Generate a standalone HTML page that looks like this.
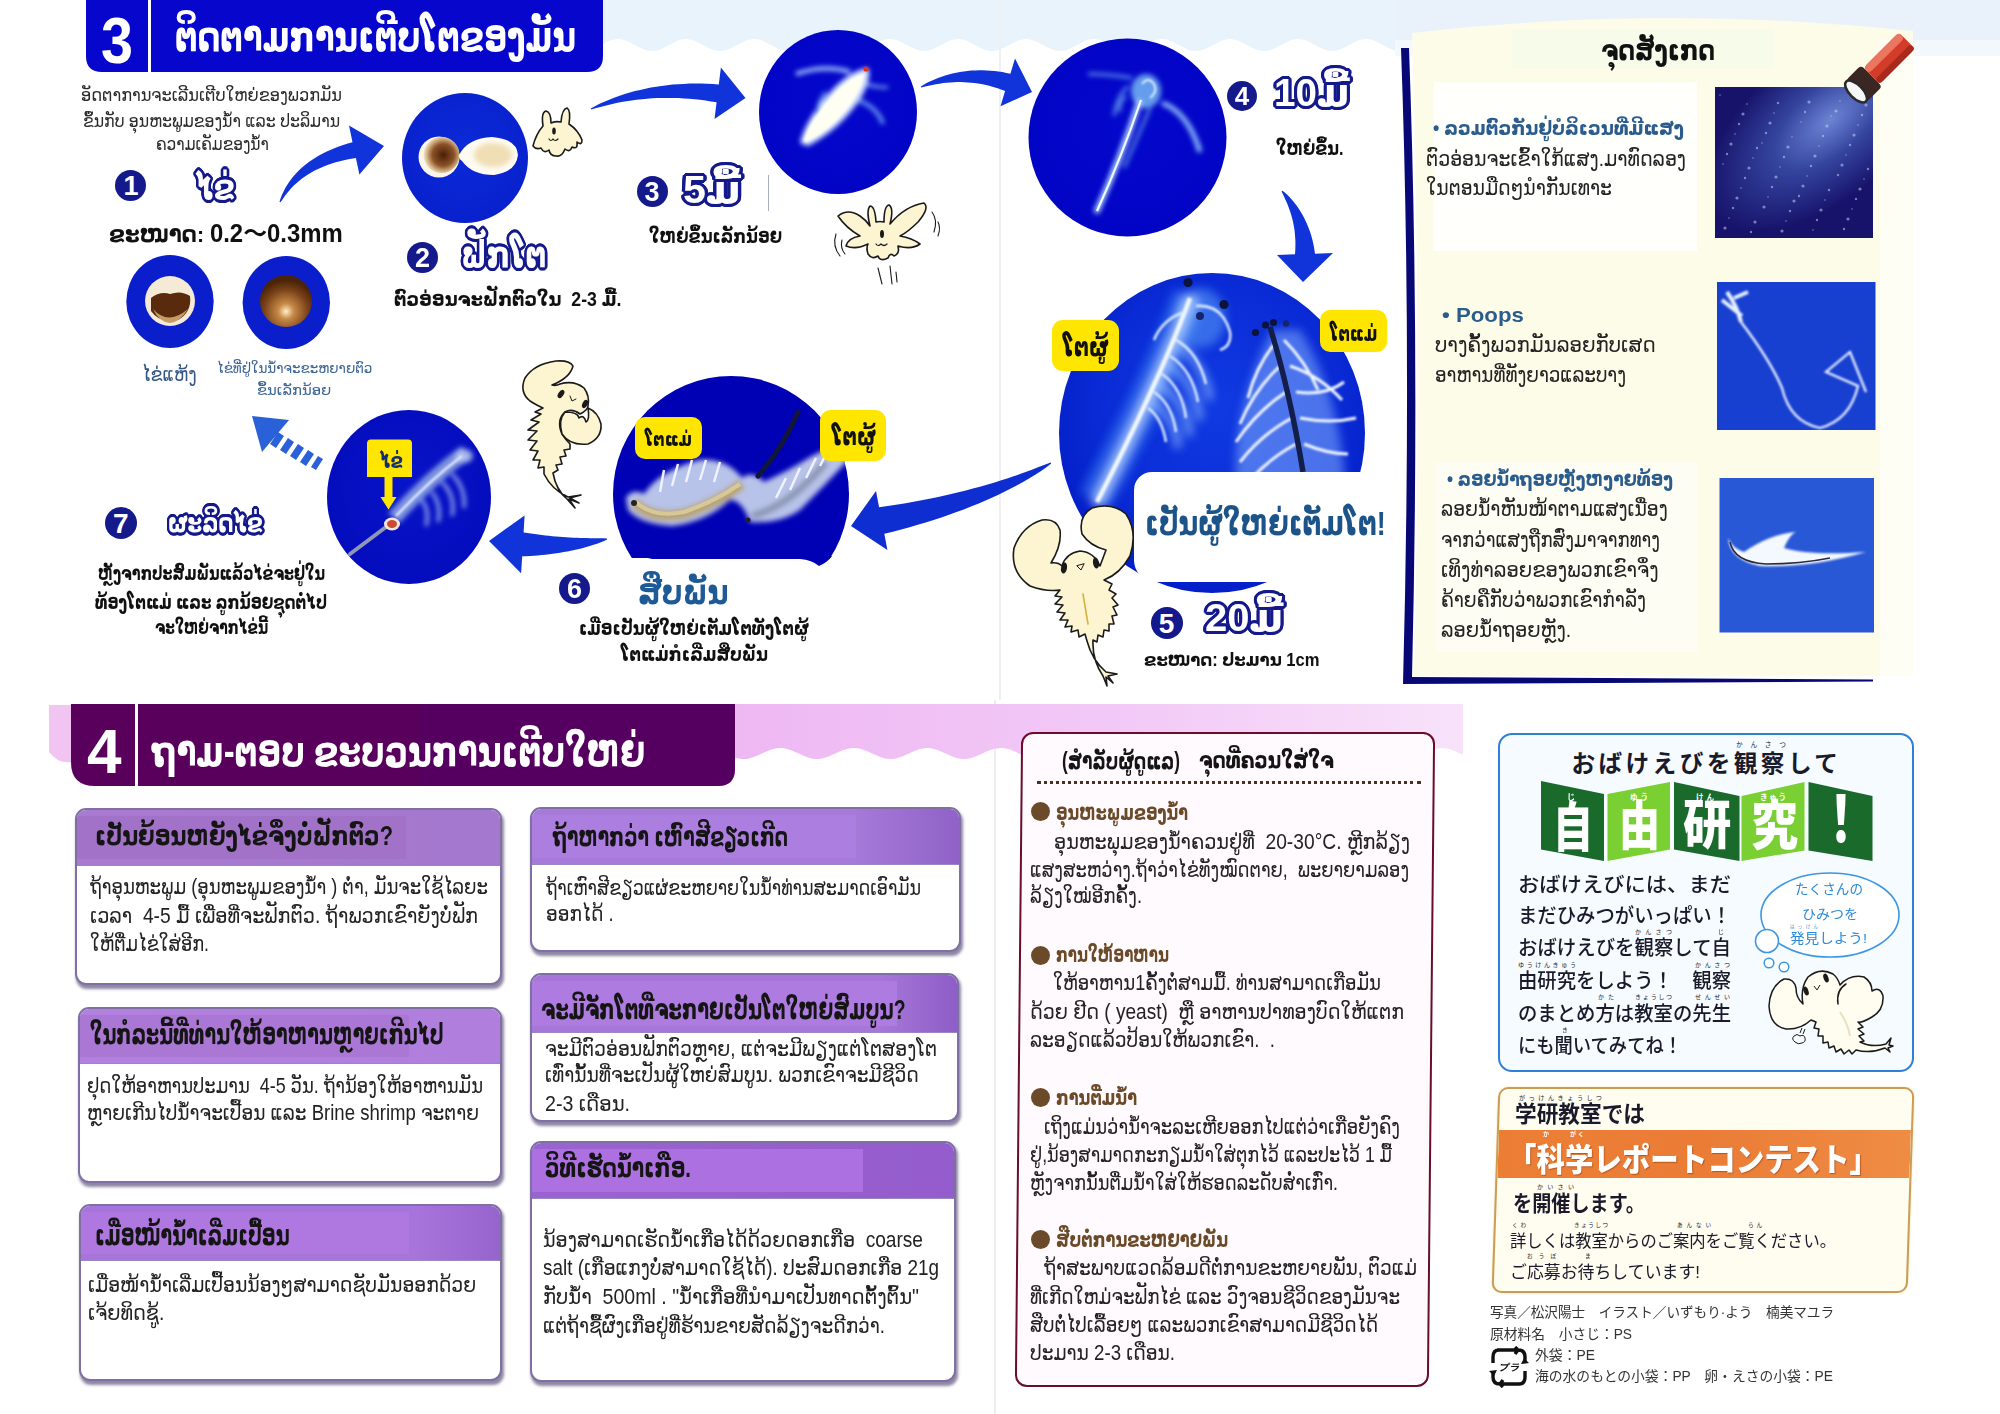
<!DOCTYPE html>
<html lang="lo"><head><meta charset="utf-8"><title>Brine shrimp growth guide</title>
<style>
html,body{margin:0;padding:0}
body{width:2000px;height:1414px;position:relative;overflow:hidden;background:#fff;font-family:'Liberation Sans','DejaVu Sans','Noto Sans CJK JP',sans-serif}
.abs{position:absolute}
.t{position:absolute;white-space:nowrap;line-height:1;transform-origin:0 50%;color:#151515}
.b{font-weight:bold}
.jp{font-family:'Liberation Sans','Noto Sans CJK JP',sans-serif}
.ol{color:#fff;text-shadow:3px 0 #14198c,-3px 0 #14198c,0 3px #14198c,0 -3px #14198c,2px 2px #14198c,-2px 2px #14198c,2px -2px #14198c,-2px -2px #14198c,3px 1px #14198c,3px -1px #14198c,-3px 1px #14198c,-3px -1px #14198c,1px 3px #14198c,-1px 3px #14198c,1px -3px #14198c,-1px -3px #14198c}
.num{position:absolute;border-radius:50%;background:#14198c;color:#fff;font-weight:bold;text-align:center;font-family:'Liberation Sans',sans-serif}
.ylab{position:absolute;background:#ffe600;border-radius:9px}
.qb{position:absolute;box-sizing:border-box;border:2px solid #7e70a2;border-radius:11px;background:#fff;box-shadow:1.5px 3.5px 3px rgba(50,35,85,.55);overflow:hidden}
.qh{position:absolute;left:0;top:0;right:0;background:linear-gradient(90deg,#b07edc 0%,#b07edc 75%,#a47ed8 100%);border-bottom:1px solid #9a86c0}
.qp{position:absolute;background:#a877d2}
</style></head>
<body>
<svg class="abs" style="left:0;top:0" width="2000" height="1414" viewBox="0 0 2000 1414">
<defs>
<filter id="b1" x="-30%" y="-30%" width="160%" height="160%"><feGaussianBlur stdDeviation="1.2"/></filter>
<filter id="b2" x="-30%" y="-30%" width="160%" height="160%"><feGaussianBlur stdDeviation="2.5"/></filter>
<filter id="b4" x="-40%" y="-40%" width="180%" height="180%"><feGaussianBlur stdDeviation="5"/></filter>
<filter id="b8" x="-50%" y="-50%" width="200%" height="200%"><feGaussianBlur stdDeviation="10"/></filter>
<radialGradient id="gc" cx="50%" cy="45%" r="60%"><stop offset="0" stop-color="#0408cc"/><stop offset="1" stop-color="#0204c4"/></radialGradient><radialGradient id="gc2" cx="50%" cy="45%" r="60%"><stop offset="0" stop-color="#0c2ad8"/><stop offset="1" stop-color="#0820cc"/></radialGradient><radialGradient id="gc7" cx="50%" cy="45%" r="60%"><stop offset="0" stop-color="#0814c8"/><stop offset="1" stop-color="#040cbc"/></radialGradient>
<radialGradient id="gc5" cx="52%" cy="42%" r="62%"><stop offset="0" stop-color="#103ae2"/><stop offset=".6" stop-color="#0a2cd6"/><stop offset="1" stop-color="#021cc6"/></radialGradient>
<radialGradient id="gegg" cx="55%" cy="50%" r="55%"><stop offset="0" stop-color="#4a1e08"/><stop offset=".55" stop-color="#8a5226"/><stop offset=".85" stop-color="#d8b88c"/><stop offset="1" stop-color="#f2e6d2"/></radialGradient>
<radialGradient id="gegg2" cx="50%" cy="70%" r="60%"><stop offset="0" stop-color="#fff0c8"/><stop offset=".25" stop-color="#c88a48"/><stop offset=".7" stop-color="#7a4218"/><stop offset="1" stop-color="#4a2408"/></radialGradient>
<radialGradient id="gp1" gradientUnits="userSpaceOnUse" cx="1830" cy="120" r="150" gradientTransform="rotate(-40 1830 120) scale(1 .5) translate(0 120)"><stop offset="0" stop-color="#6c84d4"/><stop offset=".45" stop-color="#34449e"/><stop offset="1" stop-color="#17126a"/></radialGradient>
<linearGradient id="gpink" gradientUnits="userSpaceOnUse" x1="735" y1="0" x2="1463" y2="0"><stop offset="0" stop-color="#eeb8f3"/><stop offset=".55" stop-color="#f2caf6"/><stop offset="1" stop-color="#f8e2fa"/></linearGradient><linearGradient id="gpan" x1="0" y1="0" x2="1" y2="0"><stop offset="0" stop-color="#fcfbee"/><stop offset=".9" stop-color="#fcfbee"/><stop offset="1" stop-color="#fefef8"/></linearGradient>
<clipPath id="cl6"><rect x="600" y="370" width="260" height="188"/></clipPath>
<clipPath id="cc2"><ellipse cx="465" cy="158" rx="63" ry="65"/></clipPath>
<clipPath id="cc3"><ellipse cx="838" cy="112" rx="79" ry="82"/></clipPath>
<clipPath id="cc4"><ellipse cx="1127.5" cy="137.5" rx="99" ry="99"/></clipPath>
<clipPath id="cc5"><ellipse cx="1212" cy="433" rx="153" ry="160"/></clipPath>
<clipPath id="cc6"><circle cx="731" cy="494" r="118"/></clipPath>
<clipPath id="cc7"><ellipse cx="409" cy="497" rx="82" ry="87"/></clipPath>
</defs>
<path d="M603 0 H1404 L1404 50.6 L1401 51.0 L1398 50.9 L1395 50.4 L1392 49.4 L1389 48.2 L1386 46.6 L1383 45.0 L1380 43.4 L1377 41.8 L1374 40.6 L1371 39.6 L1368 39.1 L1365 39.0 L1362 39.4 L1359 40.2 L1356 41.4 L1353 42.8 L1350 44.4 L1347 46.1 L1344 47.7 L1341 49.0 L1338 50.1 L1335 50.8 L1332 51.0 L1329 50.8 L1326 50.1 L1323 49.0 L1320 47.7 L1317 46.1 L1314 44.4 L1311 42.8 L1308 41.4 L1305 40.2 L1302 39.4 L1299 39.0 L1296 39.1 L1293 39.6 L1290 40.6 L1287 41.8 L1284 43.4 L1281 45.0 L1278 46.6 L1275 48.2 L1272 49.4 L1269 50.4 L1266 50.9 L1263 51.0 L1260 50.6 L1257 49.8 L1254 48.6 L1251 47.2 L1248 45.6 L1245 43.9 L1242 42.3 L1239 41.0 L1236 39.9 L1233 39.2 L1230 39.0 L1227 39.2 L1224 39.9 L1221 41.0 L1218 42.3 L1215 43.9 L1212 45.6 L1209 47.2 L1206 48.6 L1203 49.8 L1200 50.6 L1197 51.0 L1194 50.9 L1191 50.4 L1188 49.4 L1185 48.2 L1182 46.6 L1179 45.0 L1176 43.4 L1173 41.8 L1170 40.6 L1167 39.6 L1164 39.1 L1161 39.0 L1158 39.4 L1155 40.2 L1152 41.4 L1149 42.8 L1146 44.4 L1143 46.1 L1140 47.7 L1137 49.0 L1134 50.1 L1131 50.8 L1128 51.0 L1125 50.8 L1122 50.1 L1119 49.0 L1116 47.7 L1113 46.1 L1110 44.4 L1107 42.8 L1104 41.4 L1101 40.2 L1098 39.4 L1095 39.0 L1092 39.1 L1089 39.6 L1086 40.6 L1083 41.8 L1080 43.4 L1077 45.0 L1074 46.6 L1071 48.2 L1068 49.4 L1065 50.4 L1062 50.9 L1059 51.0 L1056 50.6 L1053 49.8 L1050 48.6 L1047 47.2 L1044 45.6 L1041 43.9 L1038 42.3 L1035 41.0 L1032 39.9 L1029 39.2 L1026 39.0 L1023 39.2 L1020 39.9 L1017 41.0 L1014 42.3 L1011 43.9 L1008 45.6 L1005 47.2 L1002 48.6 L999 49.8 L996 50.6 L993 51.0 L990 50.9 L987 50.4 L984 49.4 L981 48.2 L978 46.6 L975 45.0 L972 43.4 L969 41.8 L966 40.6 L963 39.6 L960 39.1 L957 39.0 L954 39.4 L951 40.2 L948 41.4 L945 42.8 L942 44.4 L939 46.1 L936 47.7 L933 49.0 L930 50.1 L927 50.8 L924 51.0 L921 50.8 L918 50.1 L915 49.0 L912 47.7 L909 46.1 L906 44.4 L903 42.8 L900 41.4 L897 40.2 L894 39.4 L891 39.0 L888 39.1 L885 39.6 L882 40.6 L879 41.8 L876 43.4 L873 45.0 L870 46.6 L867 48.2 L864 49.4 L861 50.4 L858 50.9 L855 51.0 L852 50.6 L849 49.8 L846 48.6 L843 47.2 L840 45.6 L837 43.9 L834 42.3 L831 41.0 L828 39.9 L825 39.2 L822 39.0 L819 39.2 L816 39.9 L813 41.0 L810 42.3 L807 43.9 L804 45.6 L801 47.2 L798 48.6 L795 49.8 L792 50.6 L789 51.0 L786 50.9 L783 50.4 L780 49.4 L777 48.2 L774 46.6 L771 45.0 L768 43.4 L765 41.8 L762 40.6 L759 39.6 L756 39.1 L753 39.0 L750 39.4 L747 40.2 L744 41.4 L741 42.8 L738 44.4 L735 46.1 L732 47.7 L729 49.0 L726 50.1 L723 50.8 L720 51.0 L717 50.8 L714 50.1 L711 49.0 L708 47.7 L705 46.1 L702 44.4 L699 42.8 L696 41.4 L693 40.2 L690 39.4 L687 39.0 L684 39.1 L681 39.6 L678 40.6 L675 41.8 L672 43.4 L669 45.0 L666 46.6 L663 48.2 L660 49.4 L657 50.4 L654 50.9 L651 51.0 L648 50.6 L645 49.8 L642 48.6 L639 47.2 L636 45.6 L633 43.9 L630 42.3 L627 41.0 L624 39.9 L621 39.2 L618 39.0 L615 39.2 L612 39.9 L609 41.0 L606 42.3 L603 43.9 Z" fill="#e8f3fc"/>
<rect x="1395" y="0" width="605" height="40" fill="#e9f2fb"/>
<rect x="1395" y="40" width="605" height="16" fill="#f3f8fd"/>
<rect x="999" y="0" width="2" height="700" fill="#eef0f4"/><rect x="994" y="700" width="2" height="714" fill="#eeeef2"/>
<path d="M735 704 H1463 L1463 754.8 L1460 753.4 L1457 752.0 L1454 750.8 L1451 749.6 L1448 748.8 L1445 748.2 L1442 748.0 L1439 748.2 L1436 748.7 L1433 749.5 L1430 750.5 L1427 751.8 L1424 753.2 L1421 754.6 L1418 755.9 L1415 757.1 L1412 758.0 L1409 758.7 L1406 759.0 L1403 758.9 L1400 758.5 L1397 757.8 L1394 756.7 L1391 755.5 L1388 754.1 L1385 752.7 L1382 751.4 L1379 750.2 L1376 749.2 L1373 748.4 L1370 748.1 L1367 748.0 L1364 748.4 L1361 749.0 L1358 750.0 L1355 751.2 L1352 752.5 L1349 753.9 L1346 755.3 L1343 756.5 L1340 757.6 L1337 758.4 L1334 758.9 L1331 759.0 L1328 758.8 L1325 758.2 L1322 757.3 L1319 756.1 L1316 754.8 L1313 753.4 L1310 752.0 L1307 750.8 L1304 749.6 L1301 748.8 L1298 748.2 L1295 748.0 L1292 748.2 L1289 748.7 L1286 749.5 L1283 750.5 L1280 751.8 L1277 753.2 L1274 754.6 L1271 755.9 L1268 757.1 L1265 758.0 L1262 758.7 L1259 759.0 L1256 758.9 L1253 758.5 L1250 757.8 L1247 756.7 L1244 755.5 L1241 754.1 L1238 752.7 L1235 751.4 L1232 750.2 L1229 749.2 L1226 748.4 L1223 748.1 L1220 748.0 L1217 748.4 L1214 749.0 L1211 750.0 L1208 751.2 L1205 752.5 L1202 753.9 L1199 755.3 L1196 756.5 L1193 757.6 L1190 758.4 L1187 758.9 L1184 759.0 L1181 758.8 L1178 758.2 L1175 757.3 L1172 756.1 L1169 754.8 L1166 753.4 L1163 752.0 L1160 750.8 L1157 749.6 L1154 748.8 L1151 748.2 L1148 748.0 L1145 748.2 L1142 748.7 L1139 749.5 L1136 750.5 L1133 751.8 L1130 753.2 L1127 754.6 L1124 755.9 L1121 757.1 L1118 758.0 L1115 758.7 L1112 759.0 L1109 758.9 L1106 758.5 L1103 757.8 L1100 756.7 L1097 755.5 L1094 754.1 L1091 752.7 L1088 751.4 L1085 750.2 L1082 749.2 L1079 748.4 L1076 748.1 L1073 748.0 L1070 748.4 L1067 749.0 L1064 750.0 L1061 751.2 L1058 752.5 L1055 753.9 L1052 755.3 L1049 756.5 L1046 757.6 L1043 758.4 L1040 758.9 L1037 759.0 L1034 758.8 L1031 758.2 L1028 757.3 L1025 756.1 L1022 754.8 L1019 753.4 L1016 752.0 L1013 750.8 L1010 749.6 L1007 748.8 L1004 748.2 L1001 748.0 L998 748.2 L995 748.7 L992 749.5 L989 750.5 L986 751.8 L983 753.2 L980 754.6 L977 755.9 L974 757.1 L971 758.0 L968 758.7 L965 759.0 L962 758.9 L959 758.5 L956 757.8 L953 756.7 L950 755.5 L947 754.1 L944 752.7 L941 751.4 L938 750.2 L935 749.2 L932 748.4 L929 748.1 L926 748.0 L923 748.4 L920 749.0 L917 750.0 L914 751.2 L911 752.5 L908 753.9 L905 755.3 L902 756.5 L899 757.6 L896 758.4 L893 758.9 L890 759.0 L887 758.8 L884 758.2 L881 757.3 L878 756.1 L875 754.8 L872 753.4 L869 752.0 L866 750.8 L863 749.6 L860 748.8 L857 748.2 L854 748.0 L851 748.2 L848 748.7 L845 749.5 L842 750.5 L839 751.8 L836 753.2 L833 754.6 L830 755.9 L827 757.1 L824 758.0 L821 758.7 L818 759.0 L815 758.9 L812 758.5 L809 757.8 L806 756.7 L803 755.5 L800 754.1 L797 752.7 L794 751.4 L791 750.2 L788 749.2 L785 748.4 L782 748.1 L779 748.0 L776 748.4 L773 749.0 L770 750.0 L767 751.2 L764 752.5 L761 753.9 L758 755.3 L755 756.5 L752 757.6 L749 758.4 L746 758.9 L743 759.0 L740 758.8 L737 758.2 L734 757.3 Z" fill="url(#gpink)"/>
<path d="M49 705 H72 V762 Q58 764 49 752 Z" fill="#f2c4f2"/>
<path d="M86 0 H603 V56 Q603 72 587 72 H102 Q86 72 86 56 Z" fill="#0606cc"/>
<rect x="148" y="0" width="3" height="73" fill="#fff"/>
<ellipse cx="465" cy="158" rx="63" ry="65" fill="url(#gc2)"/>
<ellipse cx="170" cy="301.5" rx="43.7" ry="46.5" fill="#0a1ecc"/>
<ellipse cx="286.3" cy="302.5" rx="43.7" ry="46.5" fill="#0a1ecc"/>
<ellipse cx="838" cy="112" rx="79" ry="82" fill="url(#gc)"/>
<ellipse cx="1127.5" cy="137.5" rx="99" ry="99" fill="url(#gc)"/>
<ellipse cx="1212" cy="433" rx="153" ry="160" fill="url(#gc5)"/>
<g clip-path="url(#cl6)"><circle cx="731" cy="494" r="118" fill="#0000b4"/></g>
<path d="M640 556 H832 Q828 562 819 566 Q812 560 800 559 H652 Z" fill="#0000b4"/>
<ellipse cx="409" cy="497" rx="82" ry="87" fill="url(#gc7)"/>
<g clip-path="url(#cc2)"><circle cx="439" cy="157" r="20.500" fill="#fbf6ea"/><circle cx="441.500" cy="155" r="18" fill="url(#gegg)"/><path d="M459 155 Q468 138 492 137 Q517 139 518 155 Q516 172 494 175 Q472 175 462 161 Q458 158 459 155Z" fill="#fdfbf2"/><ellipse cx="493" cy="155" rx="19" ry="12" fill="#f0deb4" filter="url(#b2)"/></g>
<circle cx="170" cy="301" r="25" fill="#f4ead6"/><path d="M151 298 Q160 291 170 294 Q181 290 190 296 Q192 312 178 320 Q160 324 151 311 Z" fill="#5a2a0c"/><path d="M153 309 Q168 326 188 309 Q180 322 170 323 Q159 322 153 309Z" fill="#c89a68"/>
<circle cx="286" cy="301" r="26" fill="url(#gegg2)"/>
<g clip-path="url(#cc3)"><g filter="url(#b2)"><path d="M800 143 Q806 118 834 88 Q852 70 868 68 Q872 76 862 96 Q842 128 808 146 Z" fill="#dcebff"/><path d="M850 72 Q825 64 796 74" stroke="#a8c8ff" stroke-width="4" fill="none"/><path d="M866 84 Q878 88 888 87" stroke="#8cb4f8" stroke-width="2.5" fill="none"/><path d="M858 100 Q878 108 883 124" stroke="#6c9cf0" stroke-width="4" fill="none"/><path d="M826 92 Q816 104 818 116" stroke="#6c9cf0" stroke-width="3" fill="none"/></g><path d="M804 140 Q812 116 838 90 Q852 76 864 74 Q862 90 846 110 Q828 132 806 142Z" fill="#fffef2" filter="url(#b1)"/><circle cx="866" cy="69" r="2.6" fill="#e03020"/></g>
<g clip-path="url(#cc4)"><g filter="url(#b2)"><ellipse cx="1146" cy="91" rx="15" ry="17" fill="#6aa4ee" opacity=".95"/><path d="M1140 100 Q1120 160 1096 213" stroke="#a8d0ff" stroke-width="6" fill="none"/><path d="M1150 108 Q1136 140 1124 168" stroke="#5a8ce0" stroke-width="3" fill="none"/><path d="M1162 103 Q1188 112 1200 152" stroke="#8cbcf8" stroke-width="5" fill="none"/><path d="M1128 86 Q1116 98 1114 116 M1132 78 Q1108 74 1088 74 M1126 96 Q1118 104 1120 112" stroke="#5c90e8" stroke-width="3" fill="none"/></g><path d="M1141 100 Q1122 156 1097 211" stroke="#f0f8ff" stroke-width="2.2" fill="none"/><path d="M1142 84 q6 -8 12 0 q4 8 -4 14" stroke="#d8ecff" stroke-width="2" fill="none" filter="url(#b1)"/></g>
<g clip-path="url(#cc5)"><g filter="url(#b4)"><path d="M1190 295 Q1160 380 1095 500" stroke="#3a84f4" stroke-width="34" fill="none" opacity=".55"/><ellipse cx="1200" cy="318" rx="26" ry="30" fill="#5a9cf8" opacity=".55"/><path d="M1192 296 Q1160 380 1096 505" stroke="#b4d4ff" stroke-width="13" fill="none" opacity=".85"/><path d="M1178 345 Q1205 365 1210 400 M1170 365 Q1196 385 1200 420 M1160 385 Q1186 402 1190 436 M1152 402 Q1176 418 1178 448" stroke="#8cbcff" stroke-width="7" fill="none" opacity=".75"/><path d="M1272 330 Q1232 410 1236 480 Q1300 520 1345 480 Q1338 392 1300 330Z" fill="#8cb8ff" opacity=".5"/></g><g filter="url(#b1)"><path d="M1190 298 Q1160 380 1097 502" stroke="#f0f7ff" stroke-width="4.5" fill="none"/><path d="M1176 340 q22 12 30 44 M1170 356 q22 14 28 46 M1162 374 q20 14 24 44 M1154 392 q18 12 22 40 M1148 408 q14 10 18 34 M1196 306 q26 -2 34 26 q2 14 -10 18 M1184 312 q-22 8 -30 28" stroke="#d8e9ff" stroke-width="2.6" fill="none"/><path d="M1276 342 q-20 24 -28 56 M1280 366 q-26 24 -40 58 M1286 392 q-30 20 -50 50 M1292 418 q-30 16 -52 44 M1296 444 q-26 14 -46 36 M1284 340 q22 22 34 50 M1290 366 q30 10 52 34 M1296 392 q30 4 48 -10 M1300 418 q30 6 56 0 M1304 444 q24 10 44 10" stroke="#eef5ff" stroke-width="3" fill="none"/></g><path d="M1270 327 Q1290 392 1303 472" stroke="#141e4a" stroke-width="5.5" fill="none"/><circle cx="1188" cy="282.500" r="4.6" fill="#0c143c"/><circle cx="1224" cy="304.500" r="4.600" fill="#0c143c"/><circle cx="1200" cy="316" r="4" fill="#16246a"/><circle cx="1255.500" cy="332.500" r="3.6" fill="#0c143c"/><circle cx="1265.500" cy="325" r="3.600" fill="#0c143c"/><circle cx="1273.500" cy="322.500" r="3.60" fill="#0c143c"/><circle cx="1286" cy="323.500" r="3.2" fill="#16246a"/></g>
<g clip-path="url(#cl6)"><g clip-path="url(#cc6)"><g filter="url(#b2)"><path d="M626 498 Q632 488 644 494 Q660 470 700 460 Q726 458 742 478 Q752 470 764 482 Q790 470 812 456 Q836 444 852 440 L850 458 Q826 484 800 510 Q780 524 750 522 Q742 500 730 500 Q706 522 672 526 Q640 524 628 510Z" fill="#ccd8f0" opacity=".9"/><path d="M634 502 Q650 520 684 514 Q716 504 742 484" stroke="#b8a472" stroke-width="11" fill="none"/><path d="M752 516 Q790 506 826 462" stroke="#8c98b8" stroke-width="8" fill="none"/></g><path d="M636 502 Q652 518 684 512 Q714 502 740 484" stroke="#d8c898" stroke-width="4" fill="none"/><path d="M798 412 Q784 446 758 476" stroke="#12163a" stroke-width="5" fill="none" stroke-linecap="round"/><circle cx="634" cy="503" r="3" fill="#222"/><circle cx="748" cy="520" r="2.5" fill="#222"/><path d="M660 492 l4 -22 M672 486 l6 -22 M686 482 l6 -22 M700 480 l6 -20 M714 482 l6 -20 M776 498 l10 -20 M790 490 l10 -22 M806 478 l10 -20 M820 466 l8 -16" stroke="#eef2fc" stroke-width="2.5"/></g></g>
<g clip-path="url(#cc7)"><g filter="url(#b2)"><path d="M466 452 Q430 478 394 518" stroke="#93ace6" stroke-width="15" fill="none" opacity=".85"/><ellipse cx="464" cy="456" rx="9" ry="7" fill="#b8c8f0" opacity=".8"/><path d="M452 474 q14 14 12 34 M442 482 q14 14 10 34 M432 492 q10 14 6 30 M422 500 q8 12 4 26" stroke="#a8bcf0" stroke-width="3" fill="none"/></g><path d="M462 456 Q430 480 396 516" stroke="#dfe8ff" stroke-width="2.5" fill="none" filter="url(#b1)"/><path d="M386 527 L350 554" stroke="#8e98b4" stroke-width="4" stroke-linecap="round"/><ellipse cx="392" cy="524" rx="8" ry="6.5" fill="#f4e4dc"/><ellipse cx="392" cy="524" rx="5" ry="4" fill="#cc4a30"/></g>
<path d="M280.5 202.2 L282.6 199.2 L284.7 196.3 L286.8 193.4 L289.1 190.7 L291.4 188.1 L293.8 185.6 L296.4 183.3 L299.0 181.0 L301.7 178.8 L304.6 176.7 L307.5 174.8 L310.5 172.9 L313.7 171.1 L316.9 169.5 L320.3 167.9 L323.8 166.4 L327.4 165.0 L331.1 163.8 L334.9 162.6 L338.9 161.4 L342.9 160.4 L347.1 159.5 L351.4 158.7 L355.9 157.9 L359.4 174.6 L384.0 146.0 L349.0 125.6 L352.5 142.3 L347.8 143.6 L343.2 145.0 L338.8 146.6 L334.4 148.2 L330.3 149.9 L326.2 151.8 L322.3 153.7 L318.6 155.8 L315.0 158.0 L311.5 160.2 L308.2 162.6 L305.0 165.0 L302.0 167.6 L299.1 170.3 L296.4 173.0 L293.9 175.8 L291.5 178.8 L289.3 181.8 L287.2 184.9 L285.3 188.1 L283.6 191.4 L282.0 194.8 L280.6 198.2 L279.5 201.8Z" fill="#1034da"/>
<path d="M591.2 109.5 L596.2 108.1 L601.3 106.8 L606.3 105.5 L611.3 104.2 L616.3 103.1 L621.4 102.1 L626.4 101.2 L631.5 100.4 L636.7 99.7 L641.8 99.2 L647.0 98.7 L652.2 98.3 L657.4 98.1 L662.6 97.9 L667.9 97.9 L673.2 97.9 L678.5 98.1 L683.9 98.4 L689.2 98.7 L694.7 99.2 L700.1 99.8 L705.6 100.5 L711.1 101.4 L716.6 102.3 L714.5 119.1 L745.5 98.0 L720.9 67.5 L718.8 84.4 L712.9 84.0 L707.0 83.7 L701.2 83.6 L695.4 83.6 L689.6 83.6 L683.9 83.9 L678.3 84.2 L672.7 84.6 L667.1 85.2 L661.7 85.9 L656.2 86.7 L650.8 87.6 L645.5 88.7 L640.2 89.9 L635.0 91.1 L629.8 92.6 L624.7 94.1 L619.7 95.7 L614.7 97.5 L609.8 99.4 L604.9 101.5 L600.1 103.6 L595.4 106.0 L590.8 108.5Z" fill="#1034da"/>
<path d="M921.2 87.5 L925.0 86.6 L928.7 85.8 L932.3 85.0 L935.9 84.3 L939.5 83.7 L943.1 83.1 L946.7 82.7 L950.2 82.4 L953.7 82.2 L957.2 82.1 L960.7 82.1 L964.2 82.2 L967.7 82.4 L971.1 82.7 L974.5 83.0 L978.0 83.5 L981.4 84.1 L984.8 84.8 L988.2 85.6 L991.6 86.5 L995.0 87.4 L998.4 88.5 L1001.7 89.7 L1005.1 91.0 L1000.5 106.3 L1032.0 92.0 L1015.0 58.4 L1010.4 73.7 L1006.4 72.9 L1002.4 72.1 L998.4 71.5 L994.5 71.0 L990.5 70.7 L986.6 70.4 L982.7 70.3 L978.9 70.3 L975.0 70.4 L971.2 70.6 L967.4 71.0 L963.6 71.4 L959.9 72.0 L956.2 72.7 L952.5 73.5 L948.8 74.5 L945.2 75.5 L941.6 76.7 L938.0 78.0 L934.5 79.4 L931.0 81.0 L927.5 82.6 L924.1 84.5 L920.8 86.5Z" fill="#1034da"/>
<path d="M1281.6 191.3 L1282.8 194.0 L1284.0 196.6 L1285.2 199.2 L1286.4 201.7 L1287.5 204.3 L1288.5 206.9 L1289.4 209.4 L1290.3 212.0 L1291.1 214.5 L1291.8 217.1 L1292.5 219.7 L1293.1 222.3 L1293.6 224.9 L1294.1 227.5 L1294.5 230.1 L1294.8 232.7 L1295.0 235.4 L1295.2 238.0 L1295.4 240.7 L1295.4 243.4 L1295.4 246.1 L1295.3 248.8 L1295.2 251.5 L1295.0 254.3 L1277.0 254.9 L1303.0 282.0 L1333.0 253.1 L1315.0 253.7 L1314.5 250.5 L1314.0 247.3 L1313.4 244.2 L1312.7 241.1 L1311.9 238.0 L1311.1 235.1 L1310.1 232.1 L1309.1 229.2 L1308.0 226.4 L1306.8 223.6 L1305.6 220.9 L1304.3 218.2 L1302.9 215.6 L1301.4 213.0 L1299.9 210.5 L1298.3 208.0 L1296.6 205.6 L1294.8 203.2 L1293.0 201.0 L1291.0 198.7 L1289.0 196.6 L1287.0 194.5 L1284.8 192.5 L1282.4 190.7Z" fill="#1034da"/>
<path d="M1050.8 462.6 L1044.7 464.8 L1038.6 467.1 L1032.5 469.5 L1026.3 471.8 L1020.0 474.1 L1013.6 476.3 L1007.1 478.5 L1000.5 480.6 L993.8 482.7 L986.9 484.7 L980.0 486.7 L972.9 488.6 L965.8 490.5 L958.5 492.3 L951.1 494.0 L943.6 495.7 L935.9 497.4 L928.2 499.0 L920.3 500.5 L912.3 502.0 L904.2 503.4 L896.0 504.7 L887.6 506.1 L879.1 507.3 L876.0 491.1 L851.0 526.0 L887.4 550.0 L884.3 533.8 L892.9 531.7 L901.3 529.4 L909.6 527.2 L917.7 524.8 L925.7 522.4 L933.6 519.9 L941.4 517.4 L949.0 514.8 L956.5 512.1 L963.8 509.4 L971.0 506.6 L978.1 503.7 L985.0 500.8 L991.8 497.8 L998.4 494.7 L1004.9 491.5 L1011.3 488.3 L1017.5 485.1 L1023.5 481.7 L1029.4 478.3 L1035.2 474.8 L1040.7 471.2 L1046.1 467.4 L1051.2 463.4Z" fill="#0f2ed2"/>
<path d="M606.9 538.5 L603.5 538.3 L600.2 538.2 L596.9 538.2 L593.5 538.2 L590.2 538.2 L586.8 538.1 L583.4 538.0 L580.1 537.9 L576.7 537.8 L573.3 537.7 L569.8 537.5 L566.4 537.3 L562.9 537.1 L559.4 536.8 L555.9 536.5 L552.4 536.2 L548.9 535.8 L545.3 535.4 L541.8 535.0 L538.2 534.5 L534.6 534.0 L530.9 533.5 L527.3 533.0 L523.6 532.4 L524.6 515.4 L489.0 541.0 L521.1 573.3 L522.2 556.3 L526.1 556.2 L530.0 556.0 L533.9 555.7 L537.7 555.4 L541.5 555.1 L545.3 554.7 L549.1 554.3 L552.8 553.8 L556.5 553.3 L560.1 552.7 L563.7 552.1 L567.3 551.5 L570.8 550.8 L574.3 550.1 L577.8 549.3 L581.2 548.4 L584.6 547.6 L588.0 546.6 L591.3 545.6 L594.5 544.6 L597.8 543.5 L600.9 542.3 L604.1 541.0 L607.1 539.5Z" fill="#1034da"/>
<g fill="#2a60d8"><path d="M252 416 L289 420 L262 452 Z"/><path d="M278 432 l6 4 l-8 12 l-6 -4z M288 438 l6 4 l-8 12 l-6 -4z M298 444 l6 4 l-8 12 l-6 -4z M308 450 l6 4 l-8 12 l-6 -4z M318 456 l5 3 l-7 11 l-5 -3z"/></g>
<rect x="768" y="175" width="1" height="36" fill="#a8b0c0"/>
</svg>
<div class="num" style="left:115.4px;top:170.3px;width:31px;height:31px;line-height:32px;font-size:27px">1</div>
<div class="num" style="left:406.9px;top:241.5px;width:31px;height:31px;line-height:32px;font-size:27px">2</div>
<div class="num" style="left:636.5px;top:176.1px;width:31px;height:31px;line-height:32px;font-size:27px">3</div>
<div class="num" style="left:1227.0px;top:81.0px;width:30px;height:30px;line-height:31px;font-size:26px">4</div>
<div class="num" style="left:1150.5px;top:606.7px;width:32px;height:32px;line-height:33px;font-size:28px">5</div>
<div class="num" style="left:559.1px;top:572.9px;width:31px;height:31px;line-height:32px;font-size:27px">6</div>
<div class="num" style="left:104.8px;top:506.9px;width:32px;height:32px;line-height:33px;font-size:28px">7</div>
<div class="ylab" style="left:1052px;top:320px;width:67px;height:51px;border-radius:11px"></div>
<div class="ylab" style="left:1320px;top:310px;width:67px;height:42px;border-radius:10px"></div>
<div class="ylab" style="left:635px;top:417px;width:67px;height:42px;border-radius:10px"></div>
<div class="ylab" style="left:820px;top:410px;width:66px;height:51px;border-radius:11px"></div>
<svg class="abs" style="left:365px;top:436px" width="54" height="76" viewBox="365 436 54 76"><path d="M371 439.500 H408 Q412 439.500 412 443.500 V477 H392.500 V497 H396.500 L388.500 509.500 L380.500 497 H384.500 V477 H367 V443.500 Q367 439.500 371 439.500Z" fill="#ffe600"/></svg>
<div class="abs" style="left:1134px;top:472px;width:264px;height:110px;background:#fff;border-radius:18px 0 0 22px"></div>
<svg class="abs" style="left:1395px;top:0" width="540" height="700" viewBox="1395 0 540 700"><path d="M1401 48 H1409 Q1420 350 1412 677 L1873 679.500 V681.500 L1403 684 Q1412 350 1401 48Z" fill="#070776"/><path d="M1412 33 Q1660 4 1913 31 V676 H1414 Q1422 350 1412 33Z" fill="#fdfce9"/><path d="M1880 40 H1913 V676 H1880Z" fill="#fefef4"/><rect x="1512" y="29" width="262" height="39" fill="#f7fbea"/><rect x="1434" y="82" width="263" height="169" fill="#fffffc"/><rect x="1436" y="462" width="262" height="190" fill="#fdfdf4"/></svg>
<svg class="abs" style="left:1700px;top:20px" width="230" height="630" viewBox="1700 20 230 630">
<rect x="1715" y="87" width="158" height="151" fill="#17126a"/><rect x="1715" y="87" width="158" height="151" fill="url(#gp1)"/>
<g fill="#c8d0f0" opacity=".55"><circle cx="1720" cy="95" r="0.8"/><circle cx="1757" cy="148" r="1.2"/><circle cx="1794" cy="201" r="1.6"/><circle cx="1831" cy="116" r="0.8"/><circle cx="1868" cy="169" r="1.2"/><circle cx="1755" cy="222" r="1.6"/><circle cx="1792" cy="137" r="0.8"/><circle cx="1829" cy="190" r="1.2"/><circle cx="1866" cy="105" r="1.6"/><circle cx="1753" cy="158" r="0.8"/><circle cx="1790" cy="211" r="1.2"/><circle cx="1827" cy="126" r="1.6"/><circle cx="1864" cy="179" r="0.8"/><circle cx="1751" cy="232" r="1.2"/><circle cx="1788" cy="147" r="1.6"/><circle cx="1825" cy="200" r="0.8"/><circle cx="1862" cy="115" r="1.2"/><circle cx="1749" cy="168" r="1.6"/><circle cx="1786" cy="221" r="0.8"/><circle cx="1823" cy="136" r="1.2"/><circle cx="1860" cy="189" r="1.6"/><circle cx="1747" cy="104" r="0.8"/><circle cx="1784" cy="157" r="1.2"/><circle cx="1821" cy="210" r="1.6"/><circle cx="1858" cy="125" r="0.8"/><circle cx="1745" cy="178" r="1.2"/><circle cx="1782" cy="231" r="1.6"/><circle cx="1819" cy="146" r="0.8"/><circle cx="1856" cy="199" r="1.2"/><circle cx="1743" cy="114" r="1.6"/><circle cx="1780" cy="167" r="0.8"/><circle cx="1817" cy="220" r="1.2"/><circle cx="1854" cy="135" r="1.6"/><circle cx="1741" cy="188" r="0.8"/><circle cx="1778" cy="103" r="1.2"/><circle cx="1815" cy="156" r="1.6"/><circle cx="1852" cy="209" r="0.8"/><circle cx="1739" cy="124" r="1.2"/><circle cx="1776" cy="177" r="1.6"/><circle cx="1813" cy="230" r="0.8"/><circle cx="1850" cy="145" r="1.2"/><circle cx="1737" cy="198" r="1.6"/><circle cx="1774" cy="113" r="0.8"/><circle cx="1811" cy="166" r="1.2"/><circle cx="1848" cy="219" r="1.6"/><circle cx="1735" cy="134" r="0.8"/><circle cx="1772" cy="187" r="1.2"/><circle cx="1809" cy="102" r="1.6"/><circle cx="1846" cy="155" r="0.8"/><circle cx="1733" cy="208" r="1.2"/><circle cx="1770" cy="123" r="1.6"/><circle cx="1807" cy="176" r="0.8"/><circle cx="1844" cy="229" r="1.2"/><circle cx="1731" cy="144" r="1.6"/><circle cx="1768" cy="197" r="0.8"/><circle cx="1805" cy="112" r="1.2"/><circle cx="1842" cy="165" r="1.6"/><circle cx="1729" cy="218" r="0.8"/><circle cx="1766" cy="133" r="1.2"/><circle cx="1803" cy="186" r="1.6"/><circle cx="1840" cy="101" r="0.8"/><circle cx="1727" cy="154" r="1.2"/><circle cx="1764" cy="207" r="1.6"/><circle cx="1801" cy="122" r="0.8"/><circle cx="1838" cy="175" r="1.2"/><circle cx="1725" cy="228" r="1.6"/><circle cx="1762" cy="143" r="0.8"/><circle cx="1799" cy="196" r="1.2"/><circle cx="1836" cy="111" r="1.6"/><circle cx="1723" cy="164" r="0.8"/></g>
<path d="M1715 88 H1874 V180 Q1800 120 1715 200Z" fill="#5a6cc0" opacity=".0"/>
<rect x="1717" y="282" width="158.500" height="148" fill="#1840d0"/>
<g filter="url(#b1)"><path d="M1727 292 q10 14 14 30 M1722 300 l20 16 M1734 298 l14 -6" stroke="#e6f0ff" stroke-width="4" fill="none"/><path d="M1741 322 Q1770 360 1782 388 Q1790 422 1820 428 Q1850 420 1858 386 L1826 372 L1850 352 L1866 392" stroke="#f0f6ff" stroke-width="2.2" fill="none"/></g>
<rect x="1719.500" y="478" width="154.500" height="154.500" fill="#2858d6"/>
<g filter="url(#b1)"><path d="M1728 538 Q1730 560 1760 566 Q1810 568 1866 552 Q1810 556 1784 548 Q1790 534 1796 532 Q1770 534 1744 552 Q1732 548 1728 538Z" fill="#f4f8ff"/></g><path d="M1730 542 Q1734 562 1766 564 Q1800 564 1830 558" stroke="#2a2a3a" stroke-width="1.5" fill="none"/>
<g transform="translate(1881.500 66) rotate(-45)"><rect x="-36" y="-15" width="22" height="30" rx="4" fill="#3a2622"/><ellipse cx="-36" cy="0" rx="6.500" ry="14" fill="#f6f6f6" stroke="#2a2a2a" stroke-width="2.5"/><rect x="-14" y="-11.500" width="50" height="23" rx="5" fill="#d23c28"/><rect x="-14" y="-11.500" width="50" height="8" rx="4" fill="#ea7660"/><rect x="-14" y="5" width="50" height="6.500" rx="3" fill="#a82a1c"/></g>
</svg>
<svg class="abs" style="left:60px;top:700px" width="700" height="95" viewBox="60 700 700 95"><path d="M71 704 H735 V769 Q735 786 718 786 H95 Q71 786 71 762 Z" fill="#58005c"/><path d="M420 704 H735 V769 Q735 786 718 786 H420Z" fill="#50006a" opacity=".35"/><rect x="135" y="704" width="3" height="83" fill="#fff"/></svg>
<div class="qb" style="left:75px;top:808px;width:427px;height:177px"><div class="qh" style="height:55px;background:linear-gradient(90deg,#a97ad2,#a478ce)"></div><div class="qp" style="left:0;top:6px;width:329px;height:43px;background:#a172c8"></div></div>
<div class="qb" style="left:78px;top:1007px;width:424px;height:176px"><div class="qh" style="height:54px;background:linear-gradient(90deg,#b280de,#b07edc)"></div><div class="qp" style="left:0;top:6px;width:329px;height:42px;background:#aa78d4"></div></div>
<div class="qb" style="left:79px;top:1204px;width:423px;height:177px"><div class="qh" style="height:54px;background:linear-gradient(90deg,#a674da 80%,#9664cd)"></div><div class="qp" style="left:0;top:6px;width:328px;height:42px;background:#ae78e0"></div></div>
<div class="qb" style="left:530px;top:807px;width:431px;height:145px"><div class="qh" style="height:55px;background:linear-gradient(90deg,#a67ad8 75%,#9062c8)"></div><div class="qp" style="left:0;top:6px;width:324px;height:43px;background:#ac7ee0"></div></div>
<div class="qb" style="left:530px;top:973px;width:429px;height:149px"><div class="qh" style="height:57px;background:linear-gradient(90deg,#a676d8 82%,#8e5ec8)"></div><div class="qp" style="left:0;top:6px;width:365px;height:45px;background:#ae7ce0"></div></div>
<div class="qb" style="left:530px;top:1141px;width:426px;height:241px"><div class="qh" style="height:55px;background:linear-gradient(90deg,#9a64d0,#945ccc)"></div><div class="qp" style="left:0;top:6px;width:331px;height:43px;background:#ac70e0"></div></div>
<div class="abs" style="left:1018px;top:732px;width:414px;height:655px;box-sizing:border-box;border:2.5px solid #6a0c2a;border-radius:12px;background:#fffafd;transform:skewX(-0.55deg)"></div>
<div class="abs" style="left:1037px;top:781px;width:384px;height:0;border-top:3px dotted #4a3020"></div>
<div class="abs" style="left:1031px;top:802px;width:19px;height:19px;border-radius:50%;background:#6b4a2a"></div>
<div class="abs" style="left:1031px;top:946px;width:19px;height:19px;border-radius:50%;background:#6b4a2a"></div>
<div class="abs" style="left:1031px;top:1088px;width:19px;height:19px;border-radius:50%;background:#6b4a2a"></div>
<div class="abs" style="left:1031px;top:1230px;width:19px;height:19px;border-radius:50%;background:#6b4a2a"></div>
<div class="abs" style="left:1498px;top:733px;width:416px;height:339px;box-sizing:border-box;border:2.5px solid #2e80d6;border-radius:14px;background:#f6fbff"></div>
<svg class="abs" style="left:1530px;top:775px" width="360" height="95" viewBox="1530 775 360 95"><path d="M1541 781 L1604 794 V861 L1541 849.500Z" fill="#1a6a2c"/><path d="M1607.500 794 L1670 782 V849.500 L1607.500 861Z" fill="#7ad032"/><path d="M1674 782 L1739.500 796 V861 L1674 849.500Z" fill="#1a6a2c"/><path d="M1741.500 796 L1804.500 782 V850.500 L1741.500 861Z" fill="#7ad032"/><path d="M1808.500 782 L1872.500 796 V861 L1808.500 850.500Z" fill="#1a6a2c"/></svg>
<svg class="abs" style="left:1750px;top:865px" width="160" height="205" viewBox="1750 865 160 205"><ellipse cx="1830" cy="915" rx="69" ry="42" fill="#fff" stroke="#3d96e4" stroke-width="1.6"/><circle cx="1767" cy="941" r="11.500" fill="#fff" stroke="#3d96e4" stroke-width="1.6"/><circle cx="1769" cy="963" r="4.8" fill="#fff" stroke="#3d96e4" stroke-width="1.5"/><circle cx="1784" cy="967" r="4.800" fill="#fff" stroke="#3d96e4" stroke-width="1.5"/><g fill="#fffdf0" stroke="#1a1a1a" stroke-width="1.5" stroke-linejoin="round" stroke-linecap="round"><path d="M1803 1004 Q1800 988 1808 977 Q1820 967 1833 974 Q1838 978 1840 985 Q1850 974 1864 977 Q1872 982 1872 991 Q1880 986 1883 996 Q1884 1010 1872 1017 Q1862 1023 1858 1022 L1863 1027 L1858 1029 L1864 1034 L1859 1036 L1864 1041 L1860 1042 Q1872 1048 1886 1044 L1891 1038 L1889 1045 L1893 1046 L1888 1048 L1890 1052 L1885 1048 Q1870 1054 1856 1050 L1852 1054 L1849 1050 L1844 1054 L1841 1049 L1836 1052 L1834 1046 L1829 1048 L1828 1042 L1823 1043 L1823 1036 L1818 1036 L1819 1029 L1814 1028 L1816 1022 L1811 1020 Q1800 1030 1786 1029 Q1770 1026 1769 1006 Q1770 986 1784 979 Q1794 978 1796 988 Q1796 998 1803 1004Z"/><path d="M1838 1004 Q1836 990 1846 984" fill="none"/></g><ellipse cx="1806" cy="991" rx="2.4" ry="4.6" transform="rotate(-20 1806 991)" fill="#1a1a1a"/><ellipse cx="1826" cy="978" rx="2.4" ry="4.6" transform="rotate(-20 1826 978)" fill="#1a1a1a"/><path d="M1814 986 l3 4 l3 -5" fill="none" stroke="#1a1a1a" stroke-width="1"/><path d="M1840 1012 Q1848 1024 1850 1036" fill="none" stroke="#e8e0c0" stroke-width="2"/><path d="M1795 1042 q-4 -3 -1 -6 q3 -3 6 0 q4 -2 5 2 q1 4 -3 5 q-4 2 -7 -1z M1800 1033 l2 -5 M1803 1034 l2 -5" fill="none" stroke="#1a1a1a" stroke-width="1"/></svg>
<div class="abs" style="left:1494.500px;top:1087px;width:416px;height:206px;box-sizing:border-box;border:2px solid #cc9c54;border-radius:10px;background:#fffcf0;transform:skewX(-1.9deg);overflow:hidden;box-shadow:0 0 2px #f0d890"><div class="abs" style="left:0;top:41px;width:100%;height:48px;background:linear-gradient(90deg,#ec7e34,#ea7c36 50%,#ef8c44)"></div></div>
<svg class="abs" style="left:1488px;top:1346px" width="42" height="42" viewBox="0 0 42 42"><path d="M9 4 H30 L27 1 M30 4 L27 8 M30 4 Q37 4 37 11 V16 M33 38 H12 L15 41 M12 38 L15 34 M12 38 Q5 38 5 31 V26 M5 17 V11 Q5 4 11 4 M37 25 V31 Q37 38 31 38" fill="none" stroke="#111" stroke-width="3.4"/><path d="M36 12 l5 5 l-8 1z M6 30 l-5 -5 l8 -1z" fill="#111"/></svg>
<svg class="abs" style="left:500px;top:90px" width="660" height="610" viewBox="500 90 660 610" fill="#fdf4d2" stroke="#1a1a1a" stroke-width="1.6" stroke-linejoin="round" stroke-linecap="round">
<path d="M543 126 Q541 112 546 111 Q551 112 551 123 Q556 121 561 122 Q562 109 567 108 Q571 110 569 124 Q578 130 582 140 Q582 146 577 142 Q578 150 572 147 Q570 153 565 149 Q562 157 556 156 Q550 156 549 150 Q544 154 541 148 Q536 150 533 146 Q536 134 543 126Z"/>
<ellipse cx="554" cy="131" rx="1.8" ry="3.6" fill="#1a1a1a" stroke="none"/><path d="M549 139 q2 3 4 0 q2 3 5 0" fill="none" stroke-width="1.2"/>
<path d="M870 226 Q866 210 870 206 Q875 206 876 222 Q880 221 884 222 Q884 206 889 205 Q894 208 890 224 Q905 206 924 203 Q930 208 918 222 Q908 232 900 236 Q912 238 920 244 Q912 250 898 246 Q900 254 894 256 Q890 252 888 258 Q880 262 878 256 Q872 260 868 254 Q866 248 868 244 Q856 250 846 246 Q848 238 860 236 Q846 228 838 216 Q848 208 860 216 Q866 220 870 226Z"/>
<ellipse cx="882" cy="234" rx="2" ry="4" fill="#1a1a1a" stroke="none"/><path d="M876 244 q2 3 5 0 q3 3 6 0" fill="none" stroke-width="1.2"/>
<path d="M836 234 q-4 12 4 22 M842 240 q-2 8 3 14 M932 212 q6 8 2 20 M938 222 q3 6 0 14 M878 268 l4 16 M890 266 l2 18 M896 272 l1 10" fill="none" stroke-width="1.1"/>
<path d="M552 385 Q570 378 573 366 Q570 360 556 361 Q534 364 525 378 Q519 392 530 401 Q538 406 543 408 L535 412 L541 414 L531 420 L539 422 L528 430 L537 431 L528 440 L537 441 L530 450 L538 451 L533 460 L540 460 L538 468 L544 467 L544 474 Q552 490 568 497 L581 495 L570 498 L579 503 L569 499 L575 508 L567 499 Q556 490 553 473 L558 470 L556 465 L562 464 L560 457 L566 456 L564 450 L570 449 L570 444 Q566 440 562 434 Q556 420 565 412 Q572 408 580 414 Q588 410 588 406 Q590 396 584 388 Q574 380 560 384 Q556 386 552 385Z"/>
<path d="M565 412 Q558 420 562 434 Q570 446 588 444 Q602 438 601 424 Q598 412 588 408 Q590 420 586 422 Q584 414 579 418 Q578 412 565 412Z"/>
<ellipse cx="561" cy="394" rx="2.6" ry="4.6" transform="rotate(35 561 394)" fill="#1a1a1a" stroke="none"/><ellipse cx="585" cy="404" rx="2.6" ry="4.4" transform="rotate(25 585 404)" fill="#1a1a1a" stroke="none"/><path d="M570 396 l2 5 l4 -2" fill="none" stroke-width="1"/>
<path d="M1051 563 Q1062 545 1060 530 Q1056 518 1042 520 Q1022 526 1014 548 Q1010 572 1030 586 Q1046 592 1060 590 L1055 596 L1062 597 L1055 604 L1063 605 L1057 612 L1065 613 L1060 620 L1068 620 L1065 627 L1072 626 L1071 632 L1078 630 L1079 637 L1085 634 L1087 641 Q1092 660 1106 672 L1117 674 L1108 676 L1113 683 L1106 677 L1107 686 L1103 676 Q1092 660 1093 640 L1097 642 L1098 635 L1103 637 L1104 630 L1109 631 L1109 624 L1114 624 L1112 616 L1117 615 L1113 607 L1118 605 L1112 598 L1116 594 L1109 590 L1112 584 L1104 580 Q1120 574 1130 556 Q1138 532 1126 514 Q1112 502 1092 508 Q1078 516 1082 534 Q1090 546 1106 550 L1100 566 Q1094 552 1080 551 Q1066 553 1062 566 Q1058 562 1051 563Z"/>
<ellipse cx="1064" cy="568" rx="3" ry="5.5" transform="rotate(10 1064 568)" fill="#1a1a1a" stroke="none"/><ellipse cx="1096" cy="563" rx="3" ry="5.5" transform="rotate(-10 1096 563)" fill="#1a1a1a" stroke="none"/><path d="M1077 566 l4 4 l3 -6 z" fill="none" stroke-width="1"/><path d="M1083 594 L1088 624" stroke="#d8b040" stroke-width="1.6" fill="none"/>
</svg>
<span class="t b" style="left:101.0px;top:7.6px;font-size:65.7px;color:#fff;transform:scaleX(0.8756);">3</span>
<span class="t b" style="left:175.0px;top:15.5px;font-size:42.4px;color:#fff;transform:scaleX(0.7589);">ຕິດຕາມການເຕີບໂຕຂອງມັນ</span>
<span class="t" style="left:81.0px;top:87.3px;font-size:17.9px;color:#2a2a2a;transform:scaleX(0.9039);">ອັດຕາການຈະເລີນເຕີບໃຫຍ່ຂອງພວກມັນ</span>
<span class="t" style="left:83.0px;top:112.5px;font-size:17.9px;color:#2a2a2a;transform:scaleX(0.8789);">ຂຶ້ນກັບ ອຸນຫະພູມຂອງນ້ຳ ແລະ ປະລິມານ</span>
<span class="t" style="left:156.0px;top:136.3px;font-size:17.9px;color:#2a2a2a;transform:scaleX(0.8611);">ຄວາມເຄັມຂອງນ້ຳ</span>
<span class="t b ol" style="left:196.0px;top:170.2px;font-size:35.6px;transform:scaleX(0.7939);">ໄຂ່</span>
<span class="t b" style="left:108.5px;top:220.5px;font-size:22.5px;color:#111;transform:scaleX(0.9490);">ຂະໜາດ: <span style="font-size:1.12em">0.2〜0.3mm</span></span>
<span class="t" style="left:142.4px;top:365.6px;font-size:18.7px;color:#325582;transform:scaleX(0.9323);">ໄຂ່ແຫ້ງ</span>
<span class="t" style="left:216.6px;top:361.5px;font-size:13.2px;color:#3c6496;transform:scaleX(1.0243);">ໄຂ່ທີ່ຢູ່ໃນນ້ຳຈະຂະຫຍາຍຕົວ</span>
<span class="t" style="left:256.5px;top:384.1px;font-size:13.2px;color:#3c6496;transform:scaleX(1.1216);">ຂຶ້ນເລັກນ້ອຍ</span>
<span class="t b ol" style="left:461.0px;top:236.3px;font-size:37.3px;transform:scaleX(0.7972);">ຟັກໂຕ</span>
<span class="t b" style="left:393.7px;top:289.8px;font-size:19.8px;color:#111;transform:scaleX(0.8934);">ຕົວອ່ອນຈະຟັກຕົວໃນ&nbsp; 2-3 ມື້.</span>
<span class="t b ol" style="left:683.0px;top:170.4px;font-size:39.0px;transform:scaleX(1.0587);">5ມື້</span>
<span class="t b" style="left:649.0px;top:226.7px;font-size:19.2px;color:#111;transform:scaleX(0.8443);">ໃຫຍ່ຂຶ້ນເລັກນ້ອຍ</span>
<span class="t b ol" style="left:1274.3px;top:73.4px;font-size:39.0px;transform:scaleX(0.9893);">10ມື້</span>
<span class="t b" style="left:1276.0px;top:138.7px;font-size:19.5px;color:#111;transform:scaleX(0.8244);">ໃຫຍ່ຂຶ້ນ.</span>
<span class="t b" style="left:1062.5px;top:333.6px;font-size:26.8px;color:#111;transform:scaleX(0.7926);">ໂຕຜູ້</span>
<span class="t b" style="left:1329.5px;top:323.7px;font-size:20.3px;color:#111;transform:scaleX(0.8027);">ໂຕແມ່</span>
<span class="t b" style="left:1145.4px;top:507.4px;font-size:33.2px;color:#1c548a;transform:scaleX(0.8110);">ເປັນຜູ້ໃຫຍ່ເຕັມໂຕ!</span>
<span class="t b ol" style="left:1204.5px;top:597.9px;font-size:39.0px;transform:scaleX(1.0261);">20ມື້</span>
<span class="t b" style="left:1144.0px;top:652.3px;font-size:17.8px;color:#111;transform:scaleX(0.9313);">ຂະໜາດ: ປະມານ 1cm</span>
<span class="t b" style="left:645.0px;top:430.2px;font-size:19.5px;color:#111;transform:scaleX(0.8261);">ໂຕແມ່</span>
<span class="t b" style="left:831.5px;top:424.9px;font-size:24.6px;color:#111;transform:scaleX(0.8351);">ໂຕຜູ້</span>
<span class="t b" style="left:637.5px;top:575.9px;font-size:33.2px;color:#1e5a96;transform:scaleX(0.8656);">ສືບພັນ</span>
<span class="t b" style="left:578.7px;top:618.9px;font-size:19.5px;color:#111;transform:scaleX(0.8288);">ເມື່ອເປັນຜູ້ໃຫຍ່ເຕັມໂຕທັງໂຕຜູ້</span>
<span class="t b" style="left:620.7px;top:644.7px;font-size:19.5px;color:#111;transform:scaleX(0.8397);">ໂຕແມ່ກໍເລີ່ມສືບພັນ</span>
<span class="t b" style="left:380.0px;top:450.7px;font-size:20.3px;color:#14306a;transform:scaleX(0.8214);">ໄຂ່</span>
<span class="t b ol" style="left:167.5px;top:508.9px;font-size:27.1px;transform:scaleX(0.7852);">ຜະລິດໄຂ່</span>
<span class="t b" style="left:98.0px;top:565.2px;font-size:18.6px;color:#111;transform:scaleX(0.7771);">ຫຼັງຈາກປະສົມພັນແລ້ວໄຂ່ຈະຢູ່ໃນ</span>
<span class="t b" style="left:95.0px;top:594.4px;font-size:18.6px;color:#111;transform:scaleX(0.8215);">ທ້ອງໂຕແມ່ ແລະ ລູກນ້ອຍຊຸດຕໍ່ໄປ</span>
<span class="t b" style="left:155.4px;top:618.5px;font-size:18.6px;color:#111;transform:scaleX(0.7486);">ຈະໃຫຍ່ຈາກໄຂ່ນີ້</span>
<span class="t b" style="left:1601.0px;top:36.0px;font-size:28.8px;color:#111;transform:scaleX(0.8154);">ຈຸດສັງເກດ</span>
<span class="t b" style="left:1433.0px;top:118.0px;font-size:20.0px;color:#2b5c8e;transform:scaleX(0.8958);">•&nbsp;ລວມຕົວກັນຢູ່ບໍລິເວນທີ່ມີແສງ</span>
<span class="t" style="left:1426.0px;top:147.9px;font-size:21.1px;color:#222;transform:scaleX(0.8981);">ຕົວອ່ອນຈະເຂົ້າໃກ້ແສງ.ມາທົດລອງ</span>
<span class="t" style="left:1426.0px;top:176.5px;font-size:21.1px;color:#222;transform:scaleX(0.8895);">ໃນຕອນມືດໆນຳກັນເທາະ</span>
<span class="t b" style="left:1441.7px;top:303.7px;font-size:21.0px;color:#2b5c8e;transform:scaleX(1.0587);">•&nbsp;Poops</span>
<span class="t" style="left:1435.4px;top:333.7px;font-size:21.1px;color:#222;transform:scaleX(0.9355);">ບາງຄັ້ງພວກມັນລອຍກັບເສດ</span>
<span class="t" style="left:1435.4px;top:363.8px;font-size:21.1px;color:#222;transform:scaleX(0.8689);">ອາຫານທີ່ທັງຍາວແລະບາງ</span>
<span class="t b" style="left:1447.3px;top:469.5px;font-size:19.5px;color:#2b5c8e;transform:scaleX(0.8826);">•&nbsp;ລອຍນ້ຳຖອຍຫຼັງຫງາຍທ້ອງ</span>
<span class="t" style="left:1441.0px;top:498.7px;font-size:20.5px;color:#222;transform:scaleX(0.9153);">ລອຍນ້ຳຫັນໜ້າຕາມແສງເນື່ອງ</span>
<span class="t" style="left:1441.0px;top:529.5px;font-size:20.5px;color:#222;transform:scaleX(0.8823);">ຈາກວ່າແສງຖືກສົ່ງມາຈາກທາງ</span>
<span class="t" style="left:1441.0px;top:559.6px;font-size:20.5px;color:#222;transform:scaleX(0.9505);">ເທິງທ່າລອຍຂອງພວກເຂົາຈຶ່ງ</span>
<span class="t" style="left:1441.0px;top:589.7px;font-size:20.5px;color:#222;transform:scaleX(0.9093);">ຄ້າຍຄືກັບວ່າພວກເຂົາກຳລັງ</span>
<span class="t" style="left:1441.0px;top:619.8px;font-size:20.5px;color:#222;transform:scaleX(0.9462);">ລອຍນ້ຳຖອຍຫຼັງ.</span>
<span class="t b" style="left:87.0px;top:718.7px;font-size:63.6px;color:#fff;transform:scaleX(0.9753);">4</span>
<span class="t b" style="left:152.0px;top:730.5px;font-size:42.4px;color:#fff;transform:scaleX(0.7710);">ຖາມ-ຕອບ ຂະບວນການເຕີບໃຫຍ່</span>
<span class="t b" style="left:95.0px;top:822.4px;font-size:27.1px;color:#151515;transform:scaleX(0.8057);">ເປັນຍ້ອນຫຍັງໄຂ່ຈຶ່ງບໍ່ຟັກຕົວ?</span>
<span class="t" style="left:90.0px;top:876.8px;font-size:21.4px;color:#222;transform:scaleX(0.8461);">ຖ້າອຸນຫະພູມ (ອຸນຫະພູມຂອງນ້ຳ ) ຕ່ຳ, ມັນຈະໃຊ້ໄລຍະ</span>
<span class="t" style="left:90.0px;top:905.8px;font-size:21.4px;color:#222;transform:scaleX(0.8991);">ເວລາ&nbsp; 4-5 ມື້ ເພື່ອທີ່ຈະຟັກຕົວ. ຖ້າພວກເຂົາຍັງບໍ່ຟັກ</span>
<span class="t" style="left:90.0px;top:933.8px;font-size:21.4px;color:#222;transform:scaleX(0.8284);">ໃຫ້ຕື່ມໄຂ່ໃສ່ອີກ.</span>
<span class="t b" style="left:90.0px;top:1020.0px;font-size:28.8px;color:#151515;transform:scaleX(0.6632);">ໃນກໍລະນີ້ທີ່ທ່ານໃຫ້ອາຫານຫຼາຍເກີນໄປ</span>
<span class="t" style="left:87.0px;top:1075.8px;font-size:21.4px;color:#222;transform:scaleX(0.8389);">ຢຸດໃຫ້ອາຫານປະມານ&nbsp; 4-5 ວັນ. ຖ້ານ້ອງໃຫ້ອາຫານມັນ</span>
<span class="t" style="left:87.0px;top:1102.8px;font-size:21.4px;color:#222;transform:scaleX(0.8673);">ຫຼາຍເກີນໄປນ້ຳຈະເປື້ອນ ແລະ Brine shrimp ຈະຕາຍ</span>
<span class="t b" style="left:95.4px;top:1220.6px;font-size:28.8px;color:#151515;transform:scaleX(0.6620);">ເມື່ອໜ້ານ້ຳເລີ່ມເປື້ອນ</span>
<span class="t" style="left:87.9px;top:1274.8px;font-size:21.4px;color:#222;transform:scaleX(0.8771);">ເມື່ອໜ້ານ້ຳເລີ່ມເປື້ອນນ້ອງໆສາມາດຊັບມັນອອກດ້ວຍ</span>
<span class="t" style="left:87.9px;top:1302.8px;font-size:21.4px;color:#222;transform:scaleX(0.8970);">ເຈ້ຍທິດຊູ້.</span>
<span class="t b" style="left:553.0px;top:822.9px;font-size:27.1px;color:#151515;transform:scaleX(0.6931);">ຖ້າຫາກວ່າ ເຫົາສີຂຽວເກີດ</span>
<span class="t" style="left:546.4px;top:877.8px;font-size:21.4px;color:#222;transform:scaleX(0.8171);">ຖ້າເຫົາສີຂຽວແຜ່ຂະຫຍາຍໃນນ້ຳທ່ານສະມາດເອົາມັນ</span>
<span class="t" style="left:546.4px;top:903.6px;font-size:21.4px;color:#222;transform:scaleX(0.8651);">ອອກໄດ້ .</span>
<span class="t b" style="left:540.7px;top:995.5px;font-size:28.0px;color:#151515;transform:scaleX(0.6926);">ຈະມີຈັກໂຕທີ່ຈະກາຍເປັນໂຕໃຫຍ່ສົມບູນ?</span>
<span class="t" style="left:545.0px;top:1038.8px;font-size:21.4px;color:#222;transform:scaleX(0.8808);">ຈະມີຕົວອ່ອນຟັກຕົວຫຼາຍ, ແຕ່ຈະມີພຽງແຕ່ໂຕສອງໂຕ</span>
<span class="t" style="left:545.3px;top:1065.3px;font-size:21.4px;color:#222;transform:scaleX(0.8718);">ເທົ່ານັ້ນທີ່ຈະເປັນຜູ້ໃຫຍ່ສົມບູນ. ພວກເຂົາຈະມີຊີວິດ</span>
<span class="t" style="left:545.0px;top:1093.8px;font-size:21.4px;color:#222;transform:scaleX(0.9161);">2-3 ເດືອນ.</span>
<span class="t b" style="left:545.0px;top:1154.4px;font-size:27.1px;color:#151515;transform:scaleX(0.7500);">ວິທີເຮັດນ້ຳເກືອ.</span>
<span class="t" style="left:543.0px;top:1229.5px;font-size:21.4px;color:#222;transform:scaleX(0.8932);">ນ້ອງສາມາດເຮັດນ້ຳເກືອໄດ້ດ້ວຍດອກເກືອ&nbsp; coarse</span>
<span class="t" style="left:543.0px;top:1258.1px;font-size:21.4px;color:#222;transform:scaleX(0.8827);">salt (ເກືອແກງບໍ່ສາມາດໃຊ້ໄດ້). ປະສົມດອກເກືອ 21g</span>
<span class="t" style="left:543.0px;top:1286.8px;font-size:21.4px;color:#222;transform:scaleX(0.9139);">ກັບນ້ຳ&nbsp; 500ml . "ນ້ຳເກືອທີ່ນຳມາເປັນທາດຕັ້ງຕົ້ນ"</span>
<span class="t" style="left:543.0px;top:1316.3px;font-size:21.4px;color:#222;transform:scaleX(0.8678);">ແຕ່ຖ້າຊື້ຜົງເກືອຢູ່ທີ່ຮ້ານຂາຍສັດລ້ຽງຈະດີກວ່າ.</span>
<span class="t b" style="left:1062.0px;top:749.8px;font-size:23.7px;color:#151515;transform:scaleX(0.7266);">(ສຳລັບຜູ້ດູແລ)</span>
<span class="t b" style="left:1199.0px;top:748.8px;font-size:23.7px;color:#151515;transform:scaleX(0.7777);">ຈຸດທີ່ຄວນໃສ່ໃຈ</span>
<span class="t b" style="left:1056.0px;top:802.2px;font-size:21.2px;color:#6b4a2a;transform:scaleX(0.7544);">ອຸນຫະພູມຂອງນ້ຳ</span>
<span class="t" style="left:1054.0px;top:831.8px;font-size:21.4px;color:#222;transform:scaleX(0.8984);">ອຸນຫະພຸມຂອງນ້ຳຄວນຢູ່ທີ່&nbsp; 20-30°C. ຫຼີກລ້ຽງ</span>
<span class="t" style="left:1030.0px;top:859.8px;font-size:21.4px;color:#222;transform:scaleX(0.8344);">ແສງສະຫວ່າງ.ຖ້າວ່າໄຂ່ທັງໝົດຕາຍ,&nbsp; ພະຍາຍາມລອງ</span>
<span class="t" style="left:1030.0px;top:885.8px;font-size:21.4px;color:#222;transform:scaleX(0.8552);">ລ້ຽງໃໝ່ອີກຄັ້ງ.</span>
<span class="t b" style="left:1056.0px;top:944.2px;font-size:21.2px;color:#6b4a2a;transform:scaleX(0.7095);">ການໃຫ້ອາຫານ</span>
<span class="t" style="left:1053.0px;top:972.8px;font-size:21.4px;color:#222;transform:scaleX(0.8440);">ໃຫ້ອາຫານ1ຄັ້ງຕໍ່ສາມມື້. ທ່ານສາມາດເກືອມັນ</span>
<span class="t" style="left:1030.0px;top:1001.8px;font-size:21.4px;color:#222;transform:scaleX(0.8902);">ດ້ວຍ ຢີດ ( yeast)&nbsp; ຫຼື ອາຫານປາທອງບົດໃຫ້ແຕກ</span>
<span class="t" style="left:1030.0px;top:1029.8px;font-size:21.4px;color:#222;transform:scaleX(0.8699);">ລະອຽດແລ້ວປ້ອນໃຫ້ພວກເຂົາ.&nbsp; .</span>
<span class="t b" style="left:1056.0px;top:1087.2px;font-size:21.2px;color:#6b4a2a;transform:scaleX(0.7629);">ການຕື່ມນ້ຳ</span>
<span class="t" style="left:1044.0px;top:1116.8px;font-size:21.4px;color:#222;transform:scaleX(0.8383);">ເຖິງແມ່ນວ່ານ້ຳຈະລະເຫີຍອອກໄປແຕ່ວ່າເກືອຍັງຄົງ</span>
<span class="t" style="left:1030.0px;top:1144.8px;font-size:21.4px;color:#222;transform:scaleX(0.8245);">ຢູ່,ນ້ອງສາມາດກະກຽມນ້ຳໃສ່ຕຸກໄວ້ ແລະປະໄວ້ 1 ມື້</span>
<span class="t" style="left:1030.0px;top:1172.8px;font-size:21.4px;color:#222;transform:scaleX(0.8332);">ຫຼັງຈາກນັ້ນຕື່ມນ້ຳໃສ່ໃຫ້ຮອດລະດັບສ່ຳເກົ່າ.</span>
<span class="t b" style="left:1056.0px;top:1229.2px;font-size:21.2px;color:#6b4a2a;transform:scaleX(0.7671);">ສືບຕໍ່ການຂະຫຍາຍພັນ</span>
<span class="t" style="left:1044.0px;top:1257.8px;font-size:21.4px;color:#222;transform:scaleX(0.8686);">ຖ້າສະພາບແວດລ້ອມດີຕໍ່ການຂະຫຍາຍພັນ, ຕົວແມ່</span>
<span class="t" style="left:1030.0px;top:1286.8px;font-size:21.4px;color:#222;transform:scaleX(0.8578);">ທີ່ເກີດໃຫມ່ຈະຟັກໄຂ່ ແລະ ວົງຈອນຊີວິດຂອງມັນຈະ</span>
<span class="t" style="left:1030.0px;top:1314.8px;font-size:21.4px;color:#222;transform:scaleX(0.8604);">ສືບຕໍ່ໄປເລື້ອຍໆ ແລະພວກເຂົາສາມາດມີຊີວິດໄດ້</span>
<span class="t" style="left:1030.0px;top:1342.8px;font-size:21.4px;color:#222;transform:scaleX(0.8722);">ປະມານ 2-3 ເດືອນ.</span>
<span class="t b jp" style="left:1571.4px;top:753.0px;font-size:23.7px;color:#1a1a2a;letter-spacing:3.38px;">おばけえびを観察して</span>
<span class="t jp" style="left:1736.0px;top:741.9px;font-size:6.7px;color:#1a1a2a;letter-spacing:7.75px;">かんさつ</span>
<span class="t b jp" style="left:1552.5px;top:801.5px;font-size:53.8px;color:#fff;font-weight:900;transform:scaleX(0.7435);">自</span>
<span class="t b jp" style="left:1618.6px;top:799.5px;font-size:53.8px;color:#fff;font-weight:900;transform:scaleX(0.7621);">由</span>
<span class="t b jp" style="left:1682.7px;top:799.0px;font-size:53.8px;color:#fff;font-weight:900;transform:scaleX(0.8978);">研</span>
<span class="t b jp" style="left:1751.0px;top:800.0px;font-size:53.8px;color:#fff;font-weight:900;transform:scaleX(0.8737);">究</span>
<span class="t b jp" style="left:1818.0px;top:788.0px;font-size:64.5px;color:#fff;font-weight:900;transform:scaleX(0.7130);">！</span>
<span class="t b jp" style="left:1567.0px;top:793.5px;font-size:7.5px;color:#fff;transform:scaleX(1.0667);">じ</span>
<span class="t b jp" style="left:1630.0px;top:793.5px;font-size:7.5px;color:#fff;letter-spacing:3.00px;">ゆう</span>
<span class="t b jp" style="left:1696.0px;top:793.5px;font-size:7.5px;color:#fff;letter-spacing:3.00px;">けん</span>
<span class="t b jp" style="left:1760.0px;top:793.5px;font-size:7.5px;color:#fff;letter-spacing:1.75px;">きゅう</span>
<span class="t jp" style="left:1518.0px;top:875.3px;font-size:20.6px;color:#1a1a2a;font-weight:500;transform:scaleX(1.0343);">おばけえびには、まだ</span>
<span class="t jp" style="left:1518.0px;top:906.3px;font-size:20.6px;color:#1a1a2a;font-weight:500;transform:scaleX(0.9403);">まだひみつがいっぱい！</span>
<span class="t jp" style="left:1518.0px;top:938.3px;font-size:20.6px;color:#1a1a2a;font-weight:500;transform:scaleX(0.9428);">おばけえびを観察して自</span>
<span class="t jp" style="left:1518.0px;top:971.3px;font-size:20.6px;color:#1a1a2a;font-weight:500;transform:scaleX(0.9403);">由研究をしよう！　観察</span>
<span class="t jp" style="left:1518.0px;top:1004.3px;font-size:20.6px;color:#1a1a2a;font-weight:500;transform:scaleX(0.9403);">のまとめ方は教室の先生</span>
<span class="t jp" style="left:1518.0px;top:1036.3px;font-size:20.6px;color:#1a1a2a;font-weight:500;transform:scaleX(0.8878);">にも聞いてみてね！</span>
<span class="t jp" style="left:1635.0px;top:929.1px;font-size:6.1px;color:#1a1a2a;letter-spacing:4.21px;">かんさつ</span>
<span class="t jp" style="left:1718.0px;top:929.1px;font-size:6.1px;color:#1a1a2a;transform:scaleX(0.9846);">じ</span>
<span class="t jp" style="left:1518.0px;top:962.1px;font-size:6.1px;color:#1a1a2a;letter-spacing:2.56px;">ゆうけんきゅう</span>
<span class="t jp" style="left:1695.0px;top:962.1px;font-size:6.1px;color:#1a1a2a;letter-spacing:3.54px;">かんさつ</span>
<span class="t jp" style="left:1598.0px;top:994.1px;font-size:6.1px;color:#1a1a2a;letter-spacing:3.81px;">かた</span>
<span class="t jp" style="left:1635.0px;top:994.1px;font-size:6.1px;color:#1a1a2a;letter-spacing:1.72px;">きょうしつ</span>
<span class="t jp" style="left:1695.0px;top:994.1px;font-size:6.1px;color:#1a1a2a;letter-spacing:3.54px;">せんせい</span>
<span class="t jp" style="left:1562.0px;top:1027.1px;font-size:6.1px;color:#1a1a2a;transform:scaleX(0.9846);">き</span>
<span class="t jp" style="left:1795.0px;top:882.7px;font-size:13.3px;color:#2a8ad8;transform:scaleX(1.0228);">たくさんの</span>
<span class="t jp" style="left:1802.0px;top:907.7px;font-size:13.3px;color:#2a8ad8;transform:scaleX(1.0529);">ひみつを</span>
<span class="t jp" style="left:1790.0px;top:931.7px;font-size:13.3px;color:#2a8ad8;transform:scaleX(1.0971);">発見しよう!</span>
<span class="t jp" style="left:1790.0px;top:924.9px;font-size:4.4px;color:#2a8ad8;letter-spacing:3.47px;">はっけん</span>
<span class="t b jp" style="left:1515.0px;top:1103.5px;font-size:22.6px;color:#1a1a2a;transform:scaleX(0.9590);">学研教室では</span>
<span class="t jp" style="left:1519.0px;top:1095.1px;font-size:6.1px;color:#1a1a2a;letter-spacing:3.56px;">がっけんきょうしつ</span>
<span class="t b jp" style="left:1508.0px;top:1144.0px;font-size:32.3px;color:#fff;font-weight:900;text-shadow:1px 1px 1px rgba(150,60,10,.6);transform:scaleX(0.8812);">「科学レポートコンテスト」</span>
<span class="t b jp" style="left:1543.0px;top:1132.2px;font-size:5.9px;color:#fff;transform:scaleX(1.0186);">か</span>
<span class="t b jp" style="left:1570.0px;top:1132.2px;font-size:5.9px;color:#fff;letter-spacing:2.22px;">がく</span>
<span class="t b jp" style="left:1513.0px;top:1194.0px;font-size:21.5px;color:#1a1a2a;transform:scaleX(0.8897);">を開催します。</span>
<span class="t jp" style="left:1537.0px;top:1184.1px;font-size:6.1px;color:#1a1a2a;letter-spacing:4.21px;">かいさい</span>
<span class="t jp" style="left:1510.0px;top:1232.9px;font-size:17.2px;color:#1a1a2a;transform:scaleX(0.9483);">詳しくは教室からのご案内をご覧ください。</span>
<span class="t jp" style="left:1512.0px;top:1223.4px;font-size:5.6px;color:#1a1a2a;letter-spacing:2.80px;">くわ</span>
<span class="t jp" style="left:1574.0px;top:1223.4px;font-size:5.6px;color:#1a1a2a;letter-spacing:1.59px;">きょうしつ</span>
<span class="t jp" style="left:1677.0px;top:1223.4px;font-size:5.6px;color:#1a1a2a;letter-spacing:3.87px;">あんない</span>
<span class="t jp" style="left:1748.0px;top:1223.4px;font-size:5.6px;color:#1a1a2a;letter-spacing:2.80px;">らん</span>
<span class="t jp" style="left:1510.0px;top:1263.9px;font-size:17.2px;color:#1a1a2a;transform:scaleX(0.9828);">ご応募お待ちしています!</span>
<span class="t jp" style="left:1527.0px;top:1254.4px;font-size:5.6px;color:#1a1a2a;letter-spacing:6.10px;">おうぼ</span>
<span class="t jp" style="left:1585.0px;top:1254.4px;font-size:5.6px;color:#1a1a2a;transform:scaleX(1.0696);">ま</span>
<span class="t jp" style="left:1490.0px;top:1305.5px;font-size:13.9px;color:#333;transform:scaleX(0.9783);">写真／松沢陽士　イラスト／いずもり·よう　楠美マユラ</span>
<span class="t jp" style="left:1490.0px;top:1327.5px;font-size:13.9px;color:#333;transform:scaleX(0.9892);">原材料名　小さじ：PS</span>
<span class="t jp" style="left:1535.0px;top:1348.5px;font-size:13.9px;color:#333;transform:scaleX(0.9966);">外袋：PE</span>
<span class="t jp" style="left:1535.0px;top:1369.5px;font-size:13.9px;color:#333;transform:scaleX(0.9922);">海の水のもとの小袋：PP　卵・えさの小袋：PE</span>
<span class="t b jp" style="left:1498.0px;top:1362.5px;font-size:9.7px;color:#111;font-style:italic;transform:scaleX(1.0839);">プラ</span>
</body></html>
